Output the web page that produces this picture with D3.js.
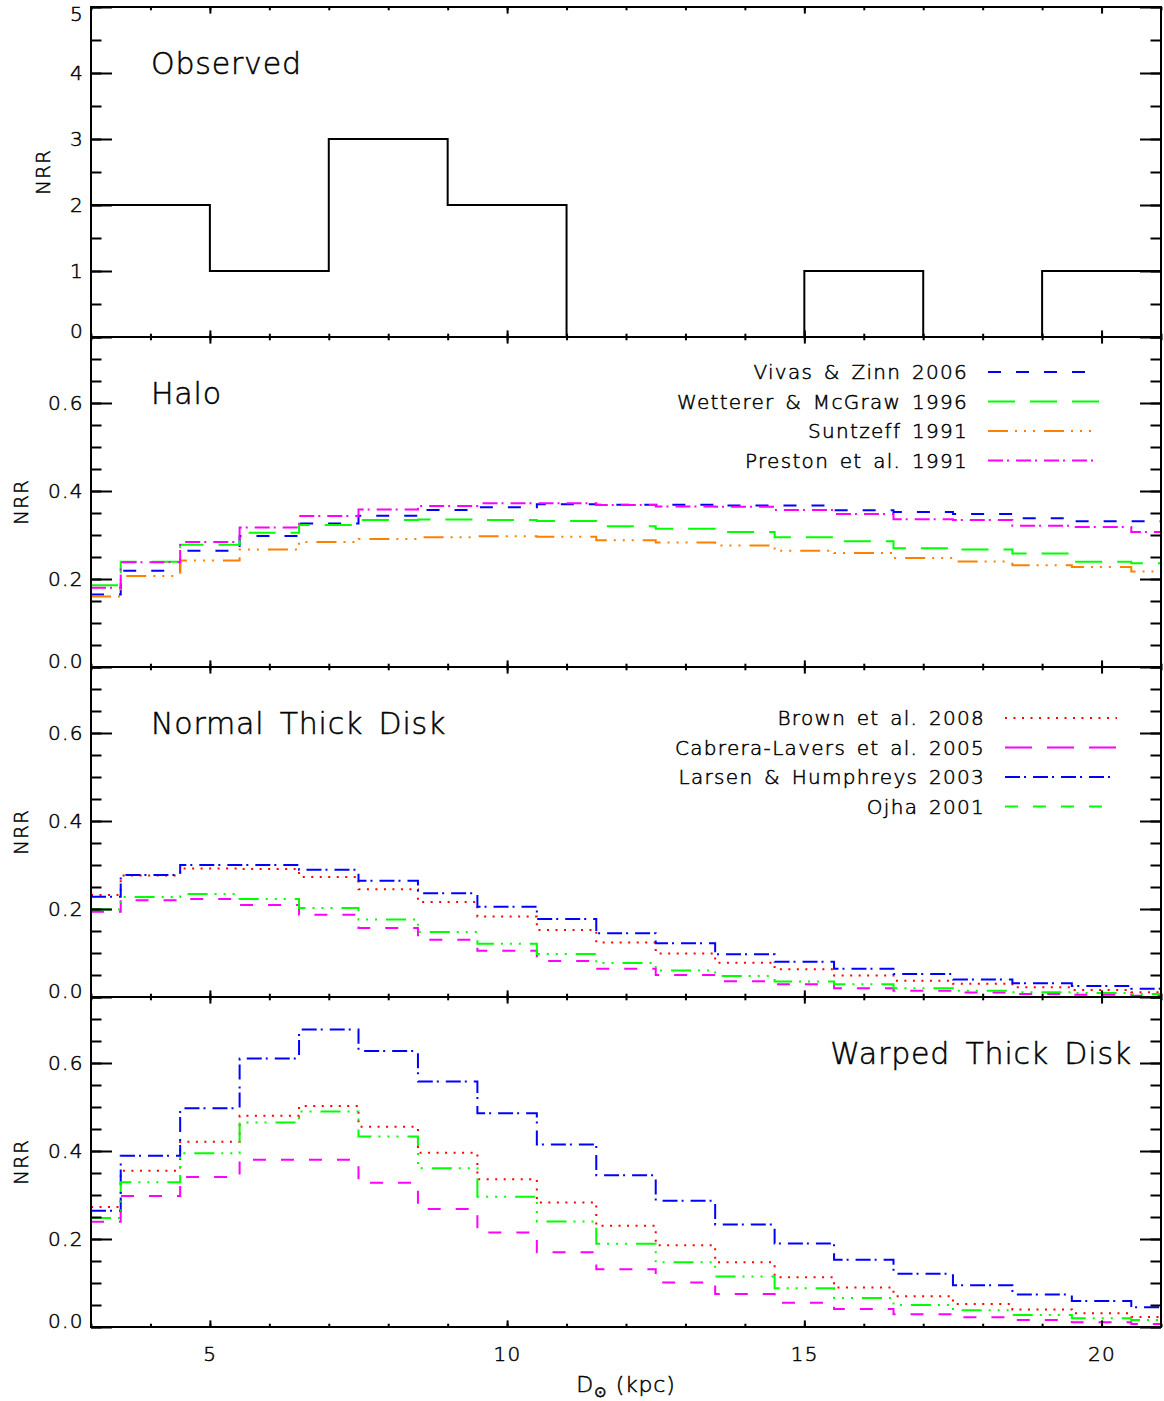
<!DOCTYPE html>
<html>
<head>
<meta charset="utf-8">
<script src="https://cdn.jsdelivr.net/npm/d3@7"></script>
<style>
  body { margin: 0; background: #fff; }
  text { font-family: "DejaVu Sans", sans-serif; font-weight: 200; fill: #000; stroke: #000; stroke-width: 0.5; }
</style>
</head>
<body>
<div class="canvas"></div>
<script>
// bin centres in kpc (model histograms, 1 kpc bins)
const binCentres = [3, 4, 5, 6, 7, 8, 9, 10, 11, 12, 13, 14, 15, 16, 17, 18, 19, 20, 21]

// observed RR Lyrae counts, 2 kpc bins
const observedEdges = [3, 5, 7, 9, 11, 13, 15, 17, 19, 21]
const observedCounts = [2, 1, 3, 2, 0, 0, 1, 0, 1]

// halo models
const vivasZinn2006 = [0.165, 0.219, 0.264, 0.298, 0.326, 0.344, 0.357, 0.363, 0.370, 0.369,
  0.369, 0.367, 0.367, 0.356, 0.352, 0.348, 0.338, 0.331, 0.331]
const wettererMcGraw1996 = [0.186, 0.239, 0.278, 0.305, 0.323, 0.334, 0.335, 0.334, 0.332, 0.320,
  0.314, 0.307, 0.295, 0.286, 0.270, 0.267, 0.258, 0.239, 0.236]
const suntzeff1991 = [0.160, 0.207, 0.242, 0.267, 0.284, 0.291, 0.295, 0.297, 0.296, 0.288,
  0.283, 0.276, 0.264, 0.259, 0.248, 0.240, 0.231, 0.227, 0.217]
const preston1991 = [0.180, 0.238, 0.284, 0.317, 0.343, 0.358, 0.366, 0.372, 0.372, 0.368,
  0.365, 0.364, 0.357, 0.348, 0.336, 0.334, 0.321, 0.318, 0.307]

// normal thick disk models
const brownNormal = [0.232, 0.276, 0.292, 0.291, 0.273, 0.245, 0.216, 0.183, 0.152, 0.124,
  0.099, 0.078, 0.063, 0.049, 0.037, 0.030, 0.022, 0.016, 0.011]
const cabreraNormal = [0.194, 0.220, 0.223, 0.209, 0.187, 0.157, 0.130, 0.105, 0.082, 0.064,
  0.050, 0.036, 0.029, 0.020, 0.014, 0.010, 0.007, 0.005, 0.003]
const larsenNormal = [0.228, 0.277, 0.300, 0.300, 0.289, 0.264, 0.236, 0.205, 0.177, 0.145,
  0.122, 0.097, 0.080, 0.064, 0.052, 0.040, 0.031, 0.025, 0.019]
const ojhaNormal = [0.199, 0.227, 0.234, 0.223, 0.202, 0.176, 0.148, 0.121, 0.098, 0.077,
  0.060, 0.048, 0.035, 0.029, 0.020, 0.014, 0.011, 0.009, 0.007]

// warped thick disk models
const brownWarped = [0.273, 0.355, 0.421, 0.480, 0.502, 0.455, 0.396, 0.336, 0.283, 0.230,
  0.186, 0.147, 0.113, 0.090, 0.070, 0.052, 0.040, 0.031, 0.023]
const cabreraWarped = [0.239, 0.298, 0.341, 0.380, 0.380, 0.328, 0.268, 0.215, 0.170, 0.131,
  0.101, 0.075, 0.055, 0.041, 0.029, 0.022, 0.016, 0.011, 0.007]
const larsenWarped = [0.264, 0.389, 0.497, 0.610, 0.676, 0.627, 0.558, 0.486, 0.415, 0.345,
  0.287, 0.233, 0.190, 0.153, 0.121, 0.095, 0.074, 0.059, 0.045]
const ojhaWarped = [0.248, 0.329, 0.395, 0.465, 0.490, 0.433, 0.361, 0.296, 0.240, 0.189,
  0.147, 0.115, 0.088, 0.066, 0.050, 0.038, 0.027, 0.020, 0.016]

const xTicks = [5, 10, 15, 20]
const countTicks = [0, 1, 2, 3, 4, 5]
const nrrTicks = [0, 0.2, 0.4, 0.6]

// IDL-like line styles
const DASHED = '13,15'
const LONG_DASH = '27,15'
const DASH_DOT = '15,4,2,7'
const DASH_DOT3 = '20,7,2,7,2,7,2,9'
const DOTTED = '2,6.5'

const width = 1164, height = 1401
const margin = {left: 91, right: 1161}
const panelHeight = 330
const panelTops = [7, 337, 667, 997]

const svg = d3.select('.canvas')
  .append('svg')
  .attr('width', width)
  .attr('height', height)

const x = d3.scaleLinear().domain([3, 21]).range([margin.left, margin.right])

const halo = [
  {name: 'Vivas & Zinn 2006', values: vivasZinn2006, color: '#0000ff', dash: DASHED},
  {name: 'Wetterer & McGraw 1996', values: wettererMcGraw1996, color: '#00ff00', dash: LONG_DASH},
  {name: 'Suntzeff 1991', values: suntzeff1991, color: '#ff8000', dash: DASH_DOT3},
  {name: 'Preston et al. 1991', values: preston1991, color: '#ff00ff', dash: DASH_DOT}
]
const diskStyle = (brown, cabrera, larsen, ojha) => [
  {name: 'Brown et al. 2008', values: brown, color: '#ff0000', dash: DOTTED},
  {name: 'Cabrera-Lavers et al. 2005', values: cabrera, color: '#ff00ff', dash: DASHED, legendDash: LONG_DASH},
  {name: 'Larsen & Humphreys 2003', values: larsen, color: '#0000ff', dash: DASH_DOT},
  {name: 'Ojha 2001', values: ojha, color: '#00ff00', dash: DASH_DOT3, legendDash: DASHED}
]

const panels = [
  {title: 'Observed', domain: [0, 5], ticks: countTicks, minor: d3.range(0, 5.01, 0.5),
    format: d3.format('d'), series: [], labelX: 50},
  {title: 'Halo', domain: [0, 0.75], ticks: nrrTicks, minor: d3.range(0, 0.751, 0.05),
    format: d3.format('.1f'), series: halo, labelX: 28,
    legend: {right: 968, lineX: 988, top: 372}},
  {title: 'Normal Thick Disk', domain: [0, 0.75], ticks: nrrTicks, minor: d3.range(0, 0.751, 0.05),
    format: d3.format('.1f'), series: diskStyle(brownNormal, cabreraNormal, larsenNormal, ojhaNormal),
    labelX: 28, legend: {right: 985, lineX: 1005, top: 718}},
  {title: 'Warped Thick Disk', domain: [0, 0.75], ticks: nrrTicks, minor: d3.range(0, 0.751, 0.05),
    format: d3.format('.1f'), series: diskStyle(brownWarped, cabreraWarped, larsenWarped, ojhaWarped),
    labelX: 28, titleRight: true}
]

function stepPoints(values) {
  const points = []
  values.forEach((v, i) => {
    const c = binCentres[i]
    points.push([Math.max(3, c - 0.5), v], [Math.min(21, c + 0.5), v])
  })
  return points
}

function styleAxis(g) {
  g.select('.domain').remove()
  g.selectAll('line').attr('stroke', '#000').attr('stroke-width', 2)
  g.selectAll('text')
    .attr('font-family', '"DejaVu Sans", sans-serif')
    .attr('font-size', 20)
    .attr('letter-spacing', 1.4)
    .attr('fill', '#000')
}

panels.forEach((p, idx) => {
  const top = panelTops[idx]
  const bottom = top + panelHeight
  const y = d3.scaleLinear().domain(p.domain).range([bottom, top])
  const g = svg.append('g')
  const line = d3.line().x(d => x(d[0])).y(d => y(d[1]))

  // data
  if (idx === 0) {
    const pts = []
    observedCounts.forEach((c, i) => pts.push([observedEdges[i], c], [observedEdges[i + 1], c]))
    g.append('path')
      .attr('d', line(pts))
      .attr('fill', 'none')
      .attr('stroke', '#000')
      .attr('stroke-width', 2)
  }
  p.series.forEach(s => {
    g.append('path')
      .attr('d', line(stepPoints(s.values)))
      .attr('fill', 'none')
      .attr('stroke', s.color)
      .attr('stroke-width', 2)
      .attr('stroke-dasharray', s.dash)
  })

  // y axes, inward ticks
  g.append('g')
    .attr('transform', `translate(${margin.left},0)`)
    .call(d3.axisLeft(y).tickValues(p.ticks).tickFormat(p.format)
      .tickSizeInner(-21).tickSizeOuter(0).tickPadding(7))
    .call(styleAxis)
    .call(a => a.selectAll('.tick text')
      .attr('y', d => d === p.domain[0] ? -6 : (d === 5 ? 7 : 0)))
  g.append('g')
    .attr('transform', `translate(${margin.left},0)`)
    .call(d3.axisLeft(y).tickValues(p.minor).tickFormat('').tickSizeInner(-10.5).tickSizeOuter(0))
    .call(styleAxis)
  g.append('g')
    .attr('transform', `translate(${margin.right},0)`)
    .call(d3.axisRight(y).tickValues(p.ticks).tickFormat('').tickSizeInner(-21).tickSizeOuter(0))
    .call(styleAxis)
  g.append('g')
    .attr('transform', `translate(${margin.right},0)`)
    .call(d3.axisRight(y).tickValues(p.minor).tickFormat('').tickSizeInner(-10.5).tickSizeOuter(0))
    .call(styleAxis)

  // x axes, inward ticks
  const last = idx === panels.length - 1
  g.append('g')
    .attr('transform', `translate(0,${bottom})`)
    .call(d3.axisBottom(x).tickValues(xTicks).tickFormat(last ? d3.format('d') : '')
      .tickSizeInner(-6.6).tickSizeOuter(0).tickPadding(20))
    .call(styleAxis)
  g.append('g')
    .attr('transform', `translate(0,${bottom})`)
    .call(d3.axisBottom(x).tickValues(d3.range(3, 22)).tickFormat('').tickSizeInner(-3.3).tickSizeOuter(0))
    .call(styleAxis)
  g.append('g')
    .attr('transform', `translate(0,${top})`)
    .call(d3.axisTop(x).tickValues(xTicks).tickFormat('').tickSizeInner(-6.6).tickSizeOuter(0))
    .call(styleAxis)
  g.append('g')
    .attr('transform', `translate(0,${top})`)
    .call(d3.axisTop(x).tickValues(d3.range(3, 22)).tickFormat('').tickSizeInner(-3.3).tickSizeOuter(0))
    .call(styleAxis)

  // frame
  g.append('rect')
    .attr('x', margin.left).attr('y', top)
    .attr('width', margin.right - margin.left).attr('height', panelHeight)
    .attr('fill', 'none').attr('stroke', '#000').attr('stroke-width', 2)

  // y label
  g.append('text')
    .attr('transform', `translate(${p.labelX},${(top + bottom) / 2}) rotate(-90)`)
    .attr('text-anchor', 'middle')
    .attr('font-size', 20)
    .attr('letter-spacing', 1)
    .text('NRR')

  // title
  g.append('text')
    .attr('x', p.titleRight ? 1132 : 151)
    .attr('y', top + 67)
    .attr('text-anchor', p.titleRight ? 'end' : 'start')
    .attr('font-size', 30)
    .attr('letter-spacing', 0.8)
    .attr('word-spacing', 5)
    .text(p.title)

  // legend
  if (p.legend) {
    p.series.forEach((s, i) => {
      const ly = p.legend.top + i * 29.5
      g.append('text')
        .attr('x', p.legend.right)
        .attr('y', ly + 7)
        .attr('text-anchor', 'end')
        .attr('font-size', 20)
        .attr('letter-spacing', 1.3)
        .attr('word-spacing', 3)
        .text(s.name)
      g.append('line')
        .attr('x1', p.legend.lineX).attr('x2', p.legend.lineX + 112)
        .attr('y1', ly).attr('y2', ly)
        .attr('stroke', s.color)
        .attr('stroke-width', 2)
        .attr('stroke-dasharray', s.legendDash || s.dash)
    })
  }
})

// x axis label: D sun (kpc)
const xLabel = svg.append('text')
  .attr('x', (margin.left + margin.right) / 2)
  .attr('y', 1392)
  .attr('text-anchor', 'middle')
  .attr('font-size', 22)
  .attr('letter-spacing', 0.8)
xLabel.append('tspan').text('D')
xLabel.append('tspan').attr('font-size', 15).attr('dy', 5).text('\u2299')
xLabel.append('tspan').attr('dy', -5).text(' (kpc)')
</script>
</body>
</html>
